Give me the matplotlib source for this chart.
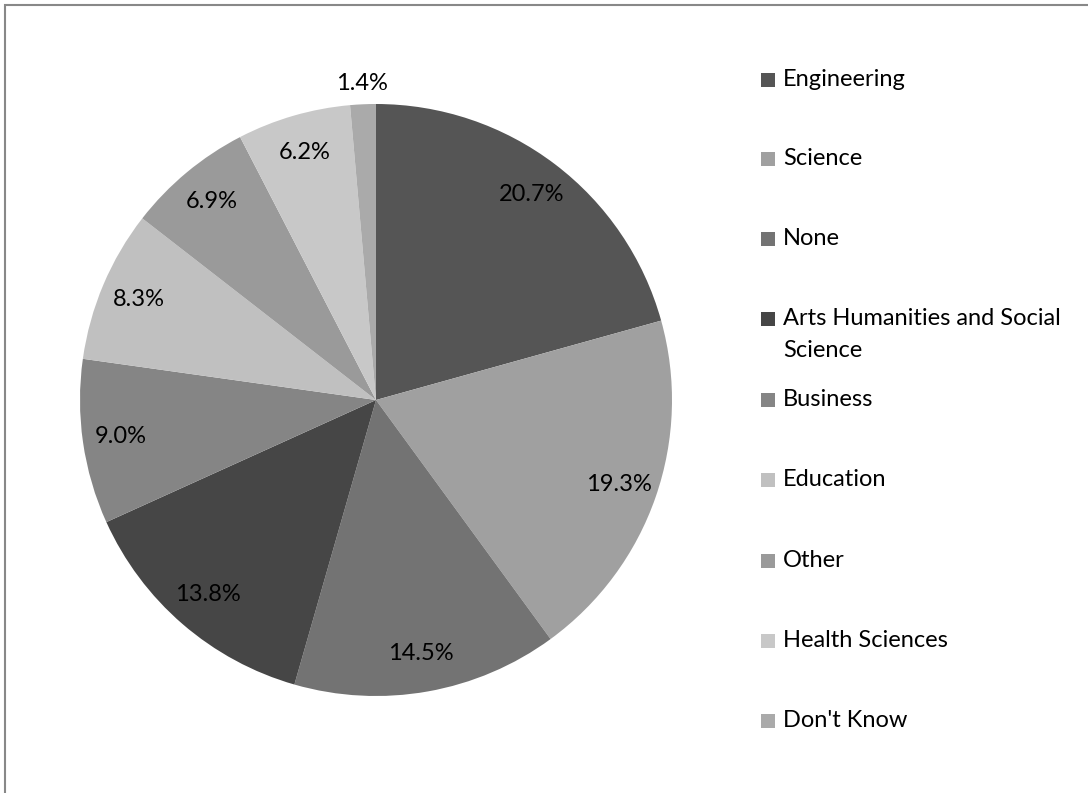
import matplotlib.pyplot as plt
from matplotlib.patches import Rectangle

# --- Survey breakdown by faculty (percent of respondents) ---
categories = ["Engineering", "Science", "None", "Arts Humanities and Social\nScience",
              "Business", "Education", "Other", "Health Sciences", "Don't Know"]
shares = [20.7, 19.3, 14.5, 13.8, 9.0, 8.3, 6.9, 6.2, 1.4]
colors = ["#555555", "#a0a0a0", "#737373", "#464646", "#858585",
          "#c0c0c0", "#9a9a9a", "#c8c8c8", "#aaaaaa"]

W, H = 1088, 793
plt.rcParams["font.family"] = ["Lato", "DejaVu Sans"]

fig = plt.figure(figsize=(W / 100, H / 100), dpi=100)

# pie centred at (376, 400) px with a 296 px radius
cx, cy, r = 376, 400, 296
ax = fig.add_axes([(cx - r) / W, (H - cy - r) / H, 2 * r / W, 2 * r / H])

wedges, texts, autotexts = ax.pie(
    shares, colors=colors, startangle=90, counterclock=False,
    autopct="%.1f%%", pctdistance=0.87,
    wedgeprops=dict(linewidth=0), textprops=dict(fontsize=17, color="black"))
ax.set_xlim(-1, 1)
ax.set_ylim(-1, 1)
ax.set_aspect("equal")
ax.axis("off")

# the smallest slice gets its label outside the pie
x, y = autotexts[-1].get_position()
scale = 1.07 / 0.87
autotexts[-1].set_position((x * scale, y * scale))

# legend drawn by hand so the wrapped entry keeps the wide row spacing
row_y = [80, 159, 239, 319, 400, 480, 561, 641, 721]
for label, col, yy in zip(categories, colors, row_y):
    fig.patches.append(Rectangle((761 / W, 1 - (yy + 7) / H), 14 / W, 14 / H,
                                 transform=fig.transFigure, facecolor=col,
                                 edgecolor="none"))
    fig.text(783 / W, 1 - (yy - 11) / H, label, fontsize=17, va="top",
             ha="left", linespacing=1.65)

# chart-area border (runs off the right and bottom edges)
fig.patches.append(Rectangle((5 / W, -0.1), 1.2, 1 - 5 / H + 0.1,
                             transform=fig.transFigure, fill=False,
                             edgecolor="#888888", linewidth=1.5))

fig.savefig("out.png", dpi=100)
